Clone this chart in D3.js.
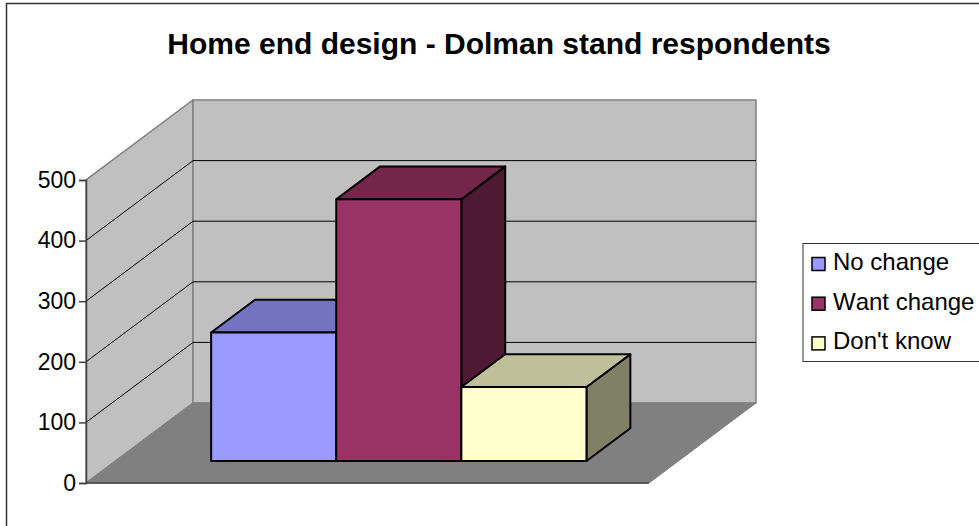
<!DOCTYPE html>
<html>
<head>
<meta charset="utf-8">
<script src="https://cdn.jsdelivr.net/npm/d3@7"></script>
<style>
    html, body { margin: 0; padding: 0; background: #fff; overflow: hidden; }
    svg { display: block; }
    text { font-family: "Liberation Sans", Arial, sans-serif; fill: #000; font-kerning: none; }
</style>
</head>
<body>
<div id="chart"></div>
<script>
var categories = ['No change', 'Want change', "Don't know"];
var values = [212, 432, 122];
var tickLabels = [0, 100, 200, 300, 400, 500];
var frontColors = ['#9999ff', '#993366', '#ffffcc'];
var topColors = ['#7373bf', '#732649', '#bfbf99'];
var sideColors = ['#4d4d80', '#4d1933', '#808066'];

var width = 979, height = 526;

var svg = d3.select('#chart').append('svg')
    .attr('width', width)
    .attr('height', height);

//Plot area of the front plane and how far the back wall is shifted from it.
var x0 = 86, x1 = 649, depthX = 107, depthY = -80;

var y = d3.scaleLinear().domain([0, 500]).range([483, 180]);
var x = d3.scaleBand().domain(categories).range([x0, x1])
    .paddingInner(0).paddingOuter(0.75).align(0.51);

//Position of the bars inside the floor, as a fraction of the depth.
var barFront = 0.275, barBack = 0.685;

function poly(points) {
    return points.map(function(p) { return p.join(','); }).join(' ');
}

//Outer frame, only top and left are visible.
svg.append('path')
    .attr('d', 'M' + width + ',3.5H6.5V' + height)
    .attr('fill', 'none').attr('stroke', '#333').attr('stroke-width', 1.5);

svg.append('text')
    .attr('x', 499).attr('y', 54)
    .attr('text-anchor', 'middle')
    .attr('font-size', 30).attr('font-weight', 'bold')
    .text('Home end design - Dolman stand respondents');

//Walls and floor.
var bx0 = x0 + depthX, bx1 = x1 + depthX;
var wallTop = y(500) + depthY, wallBottom = y(0) + depthY;

svg.append('polygon')
    .attr('points', poly([[x0, y(0)], [x0, y(500)], [bx0, wallTop], [bx0, wallBottom]]))
    .attr('fill', '#c0c0c0').attr('stroke', '#808080').attr('stroke-width', 1.5);
svg.append('polygon')
    .attr('points', poly([[bx0, wallTop], [bx1, wallTop], [bx1, wallBottom], [bx0, wallBottom]]))
    .attr('fill', '#c0c0c0').attr('stroke', '#808080').attr('stroke-width', 1.5);
svg.append('polygon')
    .attr('points', poly([[x0, y(0)], [x1, y(0)], [bx1, wallBottom], [bx0, wallBottom]]))
    .attr('fill', '#808080').attr('stroke', '#808080').attr('stroke-width', 1);

//Gridlines on both walls.
var grid = svg.append('g').attr('fill', 'none').attr('stroke', '#000').attr('stroke-width', 1);
tickLabels.slice(1, -1).forEach(function(t) {
    grid.append('path')
        .attr('d', 'M' + x0 + ',' + y(t) + 'L' + bx0 + ',' + (y(t) + depthY) + 'H' + bx1);
});

//Axis on the front plane.
var axis = svg.append('g')
    .attr('transform', 'translate(' + x0 + ',0)')
    .call(d3.axisLeft(y).tickValues(tickLabels).tickSize(7).tickPadding(3));
axis.selectAll('path, line').attr('stroke', '#404040').attr('stroke-width', 1.5);
axis.selectAll('text').attr('font-size', 23).attr('font-family', '"Liberation Sans", Arial, sans-serif').attr('fill', '#000');

svg.append('line')
    .attr('x1', x0).attr('x2', x1).attr('y1', y(0)).attr('y2', y(0))
    .attr('stroke', '#404040').attr('stroke-width', 1.5);

//The bars, left one first so the next covers its side.
var base0 = y(0) + depthY * barFront;
var baseH = y(0);
var bars = svg.append('g').selectAll('g').data(categories).enter().append('g')
    .attr('stroke', '#000').attr('stroke-width', 2).attr('stroke-linejoin', 'round');

bars.each(function(d, i) {
    var g = d3.select(this);
    var h = baseH - y(values[i]);
    var left = x(d) + depthX * barFront, right = left + x.bandwidth();
    var top = base0 - h;
    var dx = depthX * (barBack - barFront), dy = depthY * (barBack - barFront);

    g.append('polygon')
        .attr('points', poly([[right, base0], [right, top], [right + dx, top + dy], [right + dx, base0 + dy]]))
        .attr('fill', sideColors[i]);
    g.append('polygon')
        .attr('points', poly([[left, top], [right, top], [right + dx, top + dy], [left + dx, top + dy]]))
        .attr('fill', topColors[i]);
    g.append('rect')
        .attr('x', left).attr('y', top)
        .attr('width', x.bandwidth()).attr('height', h)
        .attr('fill', frontColors[i]);
});

//Legend, it runs off the right side of the picture.
svg.append('rect')
    .attr('x', 803).attr('y', 243.5)
    .attr('width', 200).attr('height', 118)
    .attr('fill', '#fff').attr('stroke', '#333').attr('stroke-width', 1);

var legend = svg.append('g').selectAll('g').data(categories).enter().append('g')
    .attr('transform', function(d, i) { return 'translate(812,' + (264 + i * 39.7) + ')'; });
legend.append('rect')
    .attr('x', 0).attr('y', -6.5).attr('width', 13).attr('height', 13)
    .attr('fill', function(d, i) { return frontColors[i]; })
    .attr('stroke', '#000').attr('stroke-width', 1.5);
legend.append('text')
    .attr('x', 21).attr('y', 6)
    .attr('font-size', 24)
    .text(function(d) { return d; });
</script>
</body>
</html>
